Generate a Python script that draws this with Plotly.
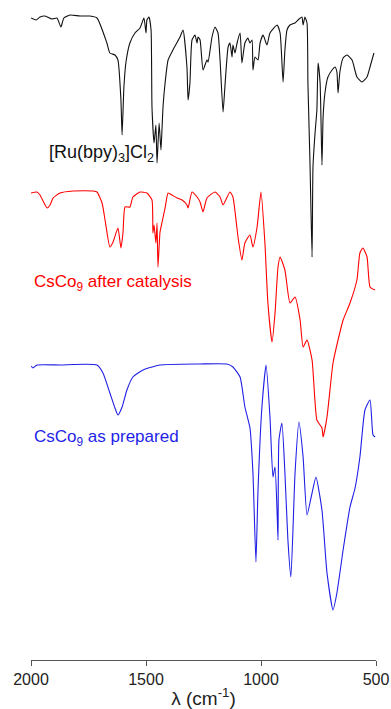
import plotly.graph_objects as go

# Wavenumbers (cm^-1) and stacked transmittance (arbitrary units, offsets included)
ru_wn = [2000, 1978, 1961, 1939, 1909, 1887, 1870, 1857, 1830, 1787, 1743, 1713, 1670, 1657, 1635, 1622,
         1609, 1604, 1596, 1587, 1570, 1548, 1526, 1509, 1500, 1496, 1487, 1478, 1474, 1465, 1457, 1452,
         1443, 1435, 1430, 1426, 1417, 1404, 1383, 1352, 1339, 1322, 1317, 1309, 1300, 1287, 1278, 1274,
         1265, 1252, 1235, 1230, 1213, 1200, 1187, 1178, 1165, 1157, 1143, 1135, 1126, 1122, 1113, 1104,
         1091, 1083, 1070, 1057, 1048, 1039, 1035, 1026, 1013, 1004, 991, 974, 961, 930, 917, 904, 896,
         887, 874, 852, 839, 822, 817, 809, 800, 796, 787, 778, 774, 765, 757, 752, 743, 735, 730, 722,
         709, 691, 678, 670, 665, 657, 643, 626, 604, 583, 561, 539, 526, 509]
ru_t = [6.42, 6.40, 6.43, 6.44, 6.41, 6.42, 6.33, 6.42, 6.45, 6.44, 6.44, 6.42, 6.17, 6.07, 6.05, 6.00,
        5.60, 5.25, 5.73, 5.98, 6.17, 6.27, 6.32, 6.42, 6.27, 6.40, 6.43, 6.30, 5.53, 5.17, 5.35, 4.97,
        5.37, 5.10, 5.33, 5.53, 5.77, 6.00, 6.10, 6.23, 6.30, 5.93, 5.60, 5.77, 6.20, 6.25, 6.17, 6.23,
        6.20, 5.90, 6.00, 5.98, 6.23, 6.33, 6.27, 6.00, 5.48, 5.73, 6.13, 6.17, 6.03, 6.15, 6.07, 6.17,
        6.27, 5.97, 6.17, 6.22, 6.17, 6.20, 5.90, 6.03, 6.00, 6.17, 6.25, 6.15, 6.27, 6.35, 6.27, 5.78, 6.10,
        6.30, 6.35, 6.37, 6.40, 6.43, 6.35, 6.43, 6.37, 5.77, 4.97, 4.03, 4.93, 5.27, 5.50, 5.97, 5.77, 4.95, 5.43, 5.67,
        5.83, 5.90, 5.93, 5.88, 5.67, 5.88, 6.02, 6.05, 6.00, 5.83, 5.78, 5.83, 5.93, 6.07]

cat_wn = [2000, 1974, 1961, 1930, 1917, 1904, 1874, 1817, 1730, 1713, 1691, 1678, 1657, 1643, 1622, 1609,
          1600, 1591, 1570, 1557, 1526, 1496, 1474, 1470, 1465, 1457, 1452, 1448, 1439, 1430, 1417, 1404,
          1387, 1365, 1343, 1322, 1317, 1300, 1278, 1265, 1252, 1235, 1200, 1178, 1165, 1135, 1122, 1100,
          1083, 1070, 1048, 1035, 1017, 1000, 983, 970, 952, 939, 926, 917, 896, 874, 852, 830, 817, 800,
          778, 757, 735, 730, 713, 687, 665, 643, 613, 583, 570, 557, 539, 526, 504]
cat_t = [4.67, 4.68, 4.65, 4.52, 4.55, 4.62, 4.67, 4.69, 4.69, 4.68, 4.57, 4.40, 4.13, 4.18, 4.32, 4.12,
         4.27, 4.53, 4.53, 4.63, 4.68, 4.67, 4.60, 4.27, 4.35, 4.17, 4.37, 3.93, 4.28, 4.38, 4.52, 4.67,
         4.65, 4.62, 4.60, 4.55, 4.52, 4.68, 4.63, 4.58, 4.48, 4.62, 4.68, 4.63, 4.55, 4.68, 4.63, 4.23,
         4.00, 4.17, 4.25, 4.13, 4.33, 4.68, 4.17, 3.57, 3.18, 3.47, 3.93, 4.03, 3.90, 3.57, 3.63, 3.40, 3.13, 3.20,
         3.00, 2.40, 2.32, 2.23, 2.43, 2.97, 3.20, 3.40, 3.57, 3.80, 4.07, 4.12, 4.03, 3.73, 3.70]

prep_wn = [2000, 1991, 1974, 1874, 1713, 1687, 1657, 1635, 1622, 1604, 1583, 1557, 1513, 1439, 1265, 1148,
           1122, 1091, 1070, 1048, 1035, 1022, 1013, 996, 978, 961, 948, 939, 930, 926, 922, 909, 896, 883,
           870, 852, 835, 817, 800, 778, 761, 735, 713, 687, 670, 643, 613, 591, 570, 548, 526, 513, 504]
prep_t = [2.94, 2.92, 2.95, 2.95, 2.95, 2.87, 2.67, 2.52, 2.45, 2.53, 2.70, 2.83, 2.90, 2.95, 2.96, 2.96,
          2.93, 2.83, 2.53, 2.32, 1.87, 0.98, 1.70, 2.53, 2.95, 2.43, 1.83, 1.93, 1.47, 1.20, 2.20, 2.37, 1.87, 1.20,
          0.83, 1.87, 2.38, 2.03, 1.45, 1.67, 1.83, 1.50, 0.87, 0.50, 0.67, 1.10, 1.53, 1.72, 2.03, 2.50, 2.60, 2.25, 2.23]

x_ticks = [2000, 1500, 1000, 500]

BLACK = "#111111"
RED = "#ff0000"
BLUE = "#1f1fe6"

fig = go.Figure()
for wn, t, c in [(ru_wn, ru_t, BLACK), (cat_wn, cat_t, RED), (prep_wn, prep_t, BLUE)]:
    fig.add_trace(go.Scatter(x=wn, y=t, mode="lines",
                             line=dict(color=c, width=1.1, shape="spline", smoothing=0.5),
                             showlegend=False, hoverinfo="skip"))

font = "Liberation Sans, Arial, sans-serif"
fig.add_annotation(x=1930, y=5.07, xref="x", yref="y", xanchor="left", yanchor="middle",
                   text="[Ru(bpy)<sub>3</sub>]Cl<sub>2</sub>", showarrow=False,
                   font=dict(family=font, size=18, color=BLACK))
fig.add_annotation(x=1996, y=3.77, xref="x", yref="y", xanchor="left", yanchor="middle",
                   text="CsCo<sub>9</sub> after catalysis", showarrow=False,
                   font=dict(family=font, size=17, color=RED))
fig.add_annotation(x=1996, y=2.22, xref="x", yref="y", xanchor="left", yanchor="middle",
                   text="CsCo<sub>9</sub> as prepared", showarrow=False,
                   font=dict(family=font, size=17, color=BLUE))

fig.update_layout(
    width=391, height=709,
    margin=dict(l=31, r=15, t=0, b=49),
    paper_bgcolor="white", plot_bgcolor="white",
    font=dict(family=font, color="#222222"),
    xaxis=dict(range=[2000, 500], tickvals=x_ticks, ticktext=[str(v) for v in x_ticks],
               showgrid=False, zeroline=False, showline=True, linecolor="#555555", linewidth=1,
               ticks="outside", ticklen=5, tickcolor="#555555", tickfont=dict(size=16, color="#222222"),
               title=dict(text="λ (cm<sup>-1</sup>)", font=dict(size=19, color="#222222"), standoff=4)),
    yaxis=dict(range=[0, 6.6], visible=False, showgrid=False, zeroline=False),
)

fig.write_html("out.html")
